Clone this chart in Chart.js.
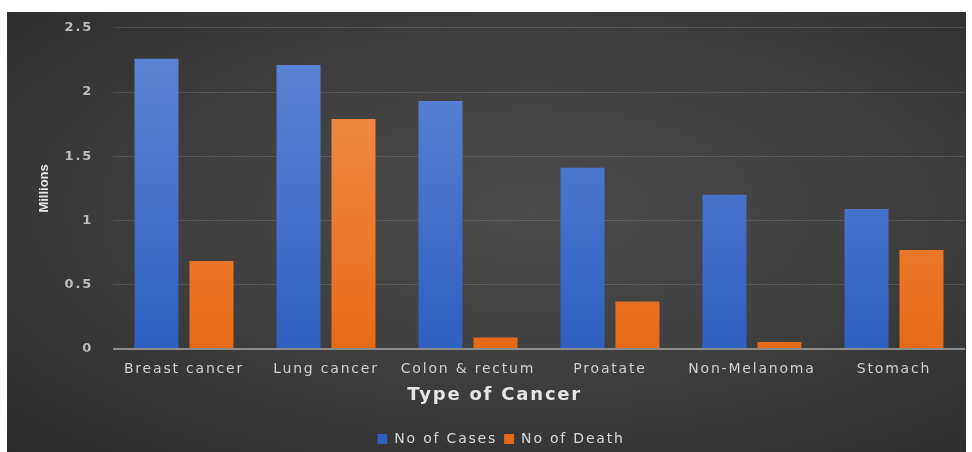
<!DOCTYPE html>
<html>
<head>
<meta charset="utf-8">
<script src="https://cdn.jsdelivr.net/npm/chart.js@4/dist/chart.umd.min.js"></script>
<style>
    body { margin: 0; background: #fff; overflow: hidden; }
    #bg {
        position: absolute; left: 7px; top: 12px; width: 959px; height: 440px;
        background: radial-gradient(ellipse at 55% 45%, #4b4b4b 0%, #404040 45%, #2b2b2b 100%);
    }
    #wrap { position: absolute; left: 7px; top: 0; width: 959px; height: 456px; }
</style>
</head>
<body>
<div id="bg"></div>
<div id="wrap"><canvas id="chart1"></canvas></div>
<script>
// chart data (millions)
var cancerTypes = ['Breast cancer', 'Lung cancer', 'Colon & rectum', 'Proatate', 'Non-Melanoma', 'Stomach'];
var casesValues = [2.26, 2.21, 1.93, 1.41, 1.20, 1.09];
var deathValues = [0.685, 1.79, 0.09, 0.37, 0.055, 0.77];
var yTicks = [0, 0.5, 1, 1.5, 2, 2.5];

// vertical gradient for the bars
function barGradient(context, top, bottom) {
    var chart = context.chart;
    var area = chart.chartArea;
    if (!area) return bottom;
    var g = chart.ctx.createLinearGradient(0, area.top, 0, area.bottom);
    g.addColorStop(0, top);
    g.addColorStop(1, bottom);
    return g;
}

// the text in the picture is drawn wide, so space the letters a bit
// (the small "Millions" title is kept tight)
var wideText = {
    id: 'wideText',
    beforeLayout: function (chart) { chart.ctx.letterSpacing = '1.8px'; },
    beforeDraw: function (chart) {
        chart.ctx.letterSpacing = '1.8px';
        var y = chart.scales.y;
        if (!y._tightTitle) {
            var orig = y.drawTitle;
            y.drawTitle = function () {
                this.ctx.letterSpacing = '0px';
                orig.apply(this, arguments);
                this.ctx.letterSpacing = '1.8px';
            };
            y._tightTitle = true;
        }
    }
};

var ctx = document.getElementById('chart1').getContext('2d');
var myChart = new Chart(ctx, {
    type: 'bar',
    plugins: [wideText],
    data: {
        labels: cancerTypes,
        datasets: [{
            label: 'No of Cases',
            data: casesValues,
            backgroundColor: function (c) { return barGradient(c, '#6188d6', '#2f5fc0'); },
            borderWidth: 0,
            categoryPercentage: 0.775,
            barPercentage: 0.8
        }, {
            label: 'No of Death',
            data: deathValues,
            backgroundColor: function (c) { return barGradient(c, '#f59452', '#e66a16'); },
            borderWidth: 0,
            categoryPercentage: 0.775,
            barPercentage: 0.8
        }]
    },
    options: {
        responsive: true,
        maintainAspectRatio: false,
        animation: false,
        layout: { padding: { left: 30, right: 1, top: -4, bottom: 0 } },
        plugins: {
            tooltip: { enabled: false },
            legend: {
                position: 'bottom',
                labels: {
                    color: '#d9d9d9',
                    boxWidth: 10,
                    boxHeight: 10,
                    padding: 7,
                    font: { family: 'DejaVu Sans', size: 14 }
                }
            }
        },
        scales: {
            y: {
                min: 0,
                max: 2.5,
                afterBuildTicks: function (axis) {
                    axis.ticks = yTicks.map(function (v) { return { value: v }; });
                },
                afterFit: function (axis) { axis.width = 76; },
                border: { display: false },
                grid: {
                    color: function (c) { return c.index === 0 ? '#8c8c8c' : 'rgba(255,255,255,0.13)'; },
                    lineWidth: function (c) { return c.index === 0 ? 2 : 1; },
                    drawTicks: false
                },
                ticks: {
                    color: '#bdbdbd',
                    padding: 20,
                    callback: function (value) { return String(value); },
                    font: { family: 'DejaVu Sans', size: 13, weight: 'bold' }
                },
                title: {
                    display: true,
                    text: 'Millions',
                    color: '#e6e6e6',
                    padding: 0,
                    font: { family: 'Liberation Sans Narrow, Liberation Sans', size: 13, weight: 'bold' }
                }
            },
            x: {
                border: { display: false },
                grid: { display: false },
                afterFit: function (axis) { axis.height = 76; },
                ticks: {
                    color: '#d0d0d0',
                    padding: 4,
                    font: { family: 'DejaVu Sans', size: 14 }
                },
                title: {
                    display: true,
                    // trailing spaces pull the centred title left, as in the picture
                    text: 'Type of Cancer           ',
                    color: '#e6e6e6',
                    padding: { top: 0, bottom: 19 },
                    font: { family: 'DejaVu Sans', size: 18, weight: 'bold' }
                }
            }
        }
    }
});
</script>
</body>
</html>
